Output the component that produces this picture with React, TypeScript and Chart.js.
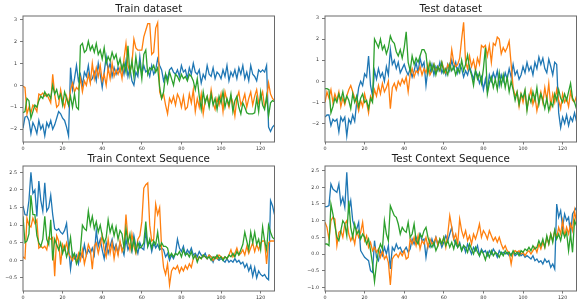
import React, { useEffect, useRef } from "react";
import { Chart, registerables } from "chart.js";
Chart.register(...registerables);

const FONT = "'DejaVu Sans', sans-serif";
const BLUE = "#1f77b4";
const ORANGE = "#ff7f0e";
const GREEN = "#2ca02c";

const XMAX = 127;
const xTicks = [0, 20, 40, 60, 80, 100, 120];
const yTicksDataset = [-2, -1, 0, 1, 2, 3];
const yTicksTrainCtx = [-0.5, 0, 0.5, 1, 1.5, 2, 2.5];
const yTicksTestCtx = [-1, -0.5, 0, 0.5, 1, 1.5, 2, 2.5];

const titles = ["Train dataset", "Test dataset", "Train Context Sequence", "Test Context Sequence"];

// Train dataset
const trainBlue = [
  -1.95, -1.45, -1.4, -1.6, -2.2, -1.7, -1.9, -2.2, -1.6, -2.0,
  -1.8, -2.3, -1.7, -1.9, -1.6, -2.0, -1.8, -1.5, -1.2, -1.3,
  -1.5, -1.6, -1.9, -2.3, 0.8, -0.2, 0.3, 0.9, 0.2, 0.5,
  0.0, 0.6, 0.4, 0.9, 0.2, 0.3, 0.6, 0.2, 1.0, 0.5,
  -0.1, 0.6, 1.3, 0.7, 1.0, 0.4, 0.8, 0.5, 0.8, 0.6,
  0.9, 0.5, 1.1, 0.4, 0.8, 0.2, 0.0, 0.6, 0.4, 1.3,
  0.5, 0.9, 0.6, 0.7, 0.4, 0.9, 0.5, 0.7, 1.2, 0.9,
  0.7, 0.2, 0.5, 0.3, 0.7, 0.8, 0.6, 0.5, 0.7, 0.4,
  0.9, 0.6, 0.7, 0.3, 0.8, 0.5, 1.0, 0.6, 0.5, 0.7,
  0.1, 0.5, 0.3, 0.9, 0.5, 0.4, 0.8, 0.3, 0.6, 0.5,
  0.3, 0.7, 0.4, 0.9, 0.2, 0.6, 0.4, 0.7, 0.3, 0.8,
  0.5, 0.9, 0.3, 0.6, 0.2, 0.9, 0.5, 0.4, 0.2, 0.7,
  0.6, 0.7, 0.6, 0.9, -1.9, -2.1, -1.9, -1.8,
];
const trainOrange = [
  -0.05, -0.1, -1.3, -1.0, -1.25, -0.9, -1.0, -1.2, -0.4, -0.45,
  -0.35, -0.5, -0.4, -0.6, -0.8, 0.5, -0.4, -1.0, -0.9, -0.2,
  -0.7, -1.0, -0.5, -0.9, -0.2, 0.1, -0.3, -0.1, -0.2, 0.3,
  -0.3, 0.2, 0.0, 0.5, 0.1, 1.0, 0.3, 0.8, 0.4, 0.9,
  0.2, 0.5, 0.0, 0.8, 0.3, 1.0, 0.4, 0.7, 0.5, 0.8,
  0.3, 1.2, 1.9, 0.9, 0.6, 1.0, 2.1, 1.7, 1.6, 1.6,
  1.6, 2.2, 2.5, 2.8, 2.8, 1.4, 1.5, 2.6, 2.85, -0.3,
  -0.6, -0.4, -0.9, -1.3, -0.6, -0.8, -0.5, -0.9, -0.4, -0.6,
  -1.0, -0.5, -1.1, -1.0, -0.4, -0.8, -0.2, -1.2, -0.6, -1.0,
  -0.4, -1.3, -0.7, -0.5, -0.9, -0.2, -0.8, -1.1, -0.6, -0.9,
  -0.4, -1.2, -0.3, -0.7, -1.0, -0.5, -0.8, -1.4, -0.6, -0.3,
  -0.9, -0.7, -0.4, -1.0, -0.6, -0.3, -0.9, -0.5, -0.2, -0.8,
  -0.6, -0.3, -1.0, -0.7, 0.1, -0.4, -0.6, -0.7,
];
const trainGreen = [
  -1.25, -1.2, -0.6, -0.7, -1.5, -1.2, -0.9, -1.0, -0.7, -0.5,
  -0.6, -0.3, -0.5, -0.4, -0.6, 0.0, -0.4, -0.2, -0.6, -0.4,
  -0.9, -0.3, -0.6, -0.9, -0.5, -1.0, -0.4, -1.0, -1.1, 1.8,
  1.9, 1.5, 1.6, 2.0, 1.6, 1.8, 1.5, 1.9, 1.4, 1.6,
  1.2, 1.7, 1.0, 1.3, 1.1, 1.5, 1.2, 1.4, 0.9, 1.2,
  0.7, 1.0, 0.6, 1.8, 0.5, 1.1, 0.4, 1.3, 0.6, 1.0,
  0.3, 1.4, 1.6, 0.5, 0.8, 0.7, 0.9, 0.6, 0.8, -0.1,
  -0.6, -0.3, 0.5, 0.1, 0.6, 0.3, 0.0, 0.5, 0.4, 0.2,
  0.5, 0.3, 0.4, 0.2, 0.5, 0.4, 0.2, -0.2, 0.3, -0.5,
  -1.1, -0.3, -0.8, -0.5, -1.0, -0.4, -0.9, -0.6, -1.1, -0.5,
  -0.8, -0.3, -1.0, -0.6, -0.9, -0.4, -1.2, -0.7, -0.5, -1.0,
  -1.3, -0.8, -1.0, -1.25, -1.3, -1.3, -1.3, -1.25, -0.6, -1.2,
  -0.3, -0.9, -1.1, -0.5, -1.4, -0.8, -0.7, -0.75,
];

// Test dataset
const testBlue = [
  -1.7, -1.6, -1.6, -2.1, -1.8, -1.9, -1.8, -2.4, -1.7, -1.9,
  -1.7, -2.6, -1.8, -2.0, -1.6, -1.9, -1.0, -0.3, 0.0, -0.2,
  0.35, 0.2, 1.2, -0.2, -0.7, 0.5, 0.1, 0.6, 0.2, 0.4,
  0.0, 0.7, 0.3, 1.5, 0.8, 1.0, 0.6, 0.9, 0.4, 0.6,
  0.8, 0.5, 0.3, 0.6, 0.2, 0.5, 0.9, 0.4, 1.1, 0.7,
  0.9, -0.2, 0.6, 0.4, 0.8, 0.3, 0.7, 0.5, 0.9, 0.4,
  0.6, 0.3, 0.8, 0.5, 1.0, 0.6, 0.9, 0.4, 0.8, 0.6,
  0.2, 0.5, 0.3, 0.7, 0.4, 0.1, 0.5, 0.3, -0.1, 0.2,
  -0.4, 0.1, -0.5, 0.3, 0.0, 0.4, 0.1, 0.5, -0.2, 0.3,
  0.0, 0.4, 0.1, 0.6, 0.2, 0.8, 0.3, 0.5, 0.1, 0.3,
  0.7, 0.4, 0.9, 0.5, 0.7, 0.3, 0.9, 0.6, 1.15, 0.8,
  1.1, 0.6, 0.4, 1.05, 0.7, 0.3, 0.9, 0.8, -1.5, -2.2,
  -1.7, -2.0, -1.6, -2.1, -1.7, -1.9, -1.5, -1.9,
];
const testOrange = [
  -1.0, -0.5, -0.8, -0.4, -1.0, -0.6, -0.9, -0.5, -1.2, -0.8,
  -1.1, -0.7, -0.4, -0.2, -0.5, -0.8, -1.0, -1.4, -0.9, -1.2,
  -0.6, -1.0, -1.5, -0.7, -0.9, -0.4, -0.7, -0.2, -0.6, -0.1,
  -0.5, -0.3, 0.0, -1.3, -0.3, -0.1, -0.4, 0.0, -0.2, 0.1,
  -0.1, 0.2, -0.5, 0.3, 0.6, 0.2, 0.5, 0.4, 0.7, 0.3,
  0.6, 0.4, 0.8, 0.3, 0.5, 0.8, 0.4, 0.7, 0.5, 0.9,
  0.6, 0.4, 0.8, 0.6, 1.5, 0.9, 0.7, 0.8, 1.1, 2.0,
  2.8, 0.9, 0.6, 1.2, 0.7, 1.0, 0.5, 1.1, 0.8, 1.7,
  1.6, 1.7, 1.2, 1.7, 0.9, 1.8, 1.7, 2.1, 2.0, 1.3,
  1.6, 1.4, 1.6, 1.9, 0.8, -0.3, -0.7, -0.5, -1.2, -0.6,
  -1.0, -0.5, -1.3, -0.8, -0.4, -1.1, -0.7, -1.4, -0.9, -0.5,
  -1.0, -0.3, -0.9, -0.1, -1.2, -0.6, -1.0, -0.4, -0.9, -1.3,
  -0.6, -1.0, -0.8, -1.2, -0.5, -0.9, -1.0, -0.7,
];
const testGreen = [
  -0.35, -0.35, -0.4, -1.5, -1.2, -0.8, -1.0, -0.6, -0.9, -0.5,
  -1.0, -0.7, -0.9, -1.3, -0.6, -1.0, -0.7, -1.2, -0.8, -0.6,
  -1.0, -0.9, -1.3, -0.8, -1.0, 2.0, 1.8, 1.6, 2.0, 1.5,
  1.7, 1.3, 1.6, 2.15, 1.9, 1.8, 1.4, 1.2, 1.5, 1.1,
  1.6, 2.35, 0.9, 0.5, 1.2, 0.8, 1.1, 0.9, 1.2, 1.5,
  1.5, 1.3, 0.4, 0.9, 0.5, 0.8, 0.3, 0.7, 0.5, 0.9,
  0.4, 0.6, 0.3, 0.8, 0.5, 0.7, 0.3, 0.6, 0.4, 1.0,
  0.5, 0.8, 1.25, 0.6, 0.3, -0.2, 0.5, 0.1, 0.4, -0.1,
  0.6, 1.6, -0.6, -0.1, 0.2, -0.3, 0.1, -0.4, 0.4, -0.2,
  0.3, -0.3, 0.2, -0.5, 0.0, -0.4, -0.9, -0.5, -1.1, -0.6,
  -0.8, -0.4, -1.4, -0.7, -1.0, -0.5, -0.9, -0.3, -1.1, -0.6,
  -0.9, -1.3, -0.8, -1.4, -1.0, -1.2, -0.6, -0.9, -0.4, -0.8,
  -1.0, -0.6, -0.9, -0.5, -0.1, -0.8, -1.0, -1.3,
];

// Train context sequence
const trainCtxBlue = [
  1.55, 1.3, 1.28, 1.7, 2.5, 1.9, 2.0, 1.25, 2.25, 1.7,
  1.4, 2.2, 1.4, 1.5, 1.85, 1.3, 0.9, 0.85, 0.9, 0.8,
  0.75, 0.85, 1.05, 0.4, -0.25, 0.2, 0.05, 0.15, -0.1, 0.2,
  0.1, 0.45, 0.15, 0.3, 0.2, 0.35, 0.15, 0.85, 0.4, 0.6,
  0.3, 0.05, 0.5, 0.2, 0.4, 0.6, 0.3, 0.45, 0.2, 0.5,
  0.35, 0.15, 0.6, 0.3, 0.45, 0.25, 0.7, 0.4, 0.2, 0.5,
  0.35, 0.3, 0.8, 0.4, 0.55, 0.25, 0.5, 0.35, 0.45, 0.3,
  0.35, 0.3, 0.1, 0.2, 0.0, 0.15, 0.05, 0.2, 0.6, 0.35,
  0.25, 0.4, 0.15, 0.3, 0.2, 0.35, 0.15, 0.2, 0.1, 0.25,
  0.15, 0.1, 0.2, 0.05, 0.15, 0.1, -0.05, 0.1, 0.05, 0.0,
  0.05, 0.0, -0.05, 0.05, -0.05, 0.0, -0.05, 0.05, -0.05, 0.0,
  -0.1, -0.05, -0.2, -0.1, -0.3, -0.15, -0.45, -0.2, -0.5, -0.3,
  -0.4, -0.45, -0.4, -0.5, -0.55, 1.7, 1.55, 1.3,
];
const trainCtxOrange = [
  0.1, 0.05, 1.2, 1.0, 0.95, 1.2, 1.05, 1.15, 0.35, 0.4,
  0.35, 0.4, 0.3, 0.65, 0.6, 0.65, -0.45, 0.7, 0.55, -0.12,
  0.45, 0.3, 0.5, 0.2, 0.1, 0.0, 0.15, -0.05, 0.2, 0.0,
  0.3, -0.1, 0.15, 0.45, 0.3, -0.25, 0.4, 0.5, 0.2, 0.45,
  0.7, 0.3, 0.1, 0.6, 0.2, 0.5, 0.05, 0.4, 0.15, 0.55,
  0.25, 0.4, 1.3, 0.6, 0.3, 0.75, 0.4, 0.2, 0.6, 0.7,
  1.1, 2.05, 2.15, 2.2, 1.0, 0.55, 0.6, 1.6, 1.3, 1.5,
  0.35, -0.2, -0.4, -0.1, -0.7, -0.3, -0.2, -0.25, -0.15, -0.35,
  -0.2, -0.3, -0.15, -0.25, -0.1, -0.2, 0.05, 0.15, 0.0, 0.1,
  0.05, 0.15, 0.1, 0.05, 0.15, 0.1, 0.0, 0.1, 0.05, 0.15,
  0.1, 0.05, 0.1, 0.05, 0.15, 0.3, 0.1, 0.2, 0.35, 0.15,
  0.2, 0.3, 0.15, 0.4, 0.2, 0.35, 0.5, 0.25, 0.45, 0.3,
  0.5, 0.55, 0.55, -0.1, 0.5, 0.55, 0.55, 0.55,
];
const trainCtxGreen = [
  1.25, 0.5, 0.55, 0.75, 1.85, 1.3, 1.3, 0.7, 0.5, 0.4,
  0.6, 1.25, 0.6, 0.45, 1.15, 0.0, 0.6, 0.45, 0.3, 0.5,
  0.2, 0.4, 0.1, 0.3, 0.65, 0.1, 0.2, -0.1, 0.05, 0.3,
  1.0, 0.9, 0.85, 1.4, 1.0, 1.25, 0.9, 1.1, 0.8, 1.0,
  0.7, 0.5, 0.65, 1.15, 0.8, 1.0, 0.7, 0.95, 0.6, 0.85,
  0.75, 0.35, 0.9, 0.5, 0.75, 0.3, 0.6, 0.25, 0.5, 0.35,
  0.4, 0.5, 1.1, 0.4, 0.6, 0.35, 0.55, 0.45, 0.8, 0.35,
  0.5, 0.4, 0.4, 0.35, 0.1, 0.2, 0.1, 0.2, 0.15, 0.25,
  0.1, 0.3, 0.15, 0.2, 0.1, 0.25, 0.05, 0.15, -0.05, 0.1,
  0.05, 0.15, 0.1, 0.05, 0.1, 0.0, 0.1, 0.05, 0.15, 0.05,
  0.1, 0.0, 0.1, 0.05, 0.15, 0.1, 0.2, 0.1, 0.25, 0.15,
  0.3, 0.45, 0.8, 0.55, 0.3, 0.8, 0.5, 0.8, 0.45, 0.6,
  0.3, 0.95, 0.55, 0.3, 1.0, 0.8, 0.65, 0.6,
];

// Test context sequence
const testCtxBlue = [
  1.42, 1.42, 1.45, 2.1, 1.95, 1.9, 1.85, 2.1, 1.5, 1.7,
  1.4, 2.45, 1.3, 1.6, 1.0, 0.8, 0.75, 0.95, 0.1, 0.0,
  -0.1, -0.15, -0.2, -0.5, -0.55, 0.4, -0.1, -0.2, 0.1, -0.05,
  0.2, 0.0, 0.25, -0.45, 0.2, 0.1, 0.3, 0.15, 0.2, 0.05,
  0.1, 0.2, 0.05, 0.15, 0.45, 0.3, 0.5, 0.35, 0.6, 0.4,
  0.45, -0.1, 0.3, 0.2, 0.45, 0.25, 0.5, 0.3, 0.4, 0.2,
  0.35, 0.55, 0.4, 0.6, 0.8, 0.45, 0.3, 0.2, 0.35, 0.1,
  0.25, 0.05, 0.3, 0.15, 0.0, 0.2, 0.1, 0.25, -0.05, 0.15,
  0.05, 0.1, -0.05, 0.1, 0.0, 0.15, 0.05, -0.1, 0.1, 0.0,
  0.05, 0.0, 0.05, -0.05, 0.0, 0.05, -0.05, 0.0, 0.05, -0.05,
  0.0, -0.1, -0.05, -0.1, -0.15, -0.05, -0.2, -0.15, -0.25, -0.2,
  -0.3, -0.15, -0.25, -0.2, -0.4, -0.3, -0.45, 1.5, 1.1, 1.3,
  0.8, 1.2, 1.0, 1.1, 0.6, 1.2, 1.3, 1.4,
];
const testCtxOrange = [
  0.95, 0.8, 0.45, 1.0, 1.1, 1.05, 0.25, 0.65, 0.7, 0.5,
  0.9, 1.0, 0.6, 0.4, 0.55, 0.3, 0.7, 0.5, 0.65, 0.95,
  0.4, 0.55, 0.2, 0.35, 0.1, 0.2, 0.05, 0.15, -0.1, 0.1,
  -0.15, -0.05, -0.25, -0.93, -0.15, -0.05, 0.0, -0.1, 0.05, -0.05,
  0.1, -0.15, -0.1, 0.45, 0.3, 0.5, 0.25, 0.55, 0.15, 0.4,
  0.3, 0.5, 0.2, 0.45, 0.3, 0.35, 0.5, 0.25, 0.45, 0.3,
  0.5, 0.2, 0.6, 1.15, 0.8, 0.45, 0.6, 0.3, 1.05, 0.7,
  0.5, 0.7, 0.4, 0.55, 0.3, 0.6, 0.45, 0.65, 0.9, 0.5,
  0.7, 0.6, 0.45, 0.7, 0.55, 0.4, 0.5, 0.35, 0.5, 0.3,
  0.15, 0.25, 0.1, 0.05, -0.3, 0.05, 0.1, 0.05, 0.1, 0.0,
  0.05, -0.05, 0.05, 0.1, 0.0, 0.1, 0.2, 0.05, 0.3, 0.15,
  0.35, 0.2, 0.5, 0.3, 0.6, 0.4, 0.7, 0.5, 0.8, 0.6,
  1.0, 0.55, 0.8, 0.6, 0.9, 0.7, 1.3, 0.95,
];
const testCtxGreen = [
  0.3, 0.3, 0.25, 1.5, 1.2, 0.85, 0.5, 0.4, 0.7, 1.0,
  0.9, 0.55, 1.6, 0.8, 0.5, 0.9, 0.6, 0.7, 0.45, 0.6,
  0.5, 0.3, 0.45, 0.1, -0.3, -0.83, -0.3, 0.1, 0.3, 0.15,
  1.0, 0.6, 0.4, 1.45, 1.3, 1.15, 1.1, 0.9, 0.6, 0.8,
  0.7, 0.65, 0.95, 0.5, 0.6, 0.9, 0.4, 0.3, 0.6, 0.5,
  0.7, 0.8, 0.5, 0.3, 0.2, 0.35, 0.1, 0.25, 0.45, 0.3,
  0.5, 0.25, 0.4, 0.2, 0.35, 0.15, 0.4, 0.2, 0.3, 0.1,
  0.25, 0.2, 0.05, 0.3, 0.15, 0.0, 0.2, 0.05, -0.05, 0.1,
  0.0, -0.18, 0.05, -0.1, 0.1, -0.05, 0.05, 0.0, -0.1, 0.05,
  -0.05, 0.1, 0.0, 0.05, -0.05, 0.1, 0.0, 0.05, -0.05, 0.1,
  0.05, 0.15, 0.1, 0.2, 0.1, 0.25, 0.15, 0.2, 0.4, 0.25,
  0.45, 0.2, 0.55, 0.3, 0.6, 0.35, 0.72, 0.45, 0.6, 0.4,
  0.7, 0.5, 0.65, 0.1, 0.6, 0.05, 1.0, 0.85,
];

type Panel = {
  title: string;
  series: number[][];
  yMin: number;
  yMax: number;
  yTicks: number[];
  decimals: number;
  left: number;
  top: number;
  width: number;
  height: number;
  pad: { top: number; right: number; bottom: number; left: number };
};

const TITLE_SIZE = 10.3;
const TITLE_H = TITLE_SIZE * 1.2;

const panels: Panel[] = [
  {
    title: titles[0], series: [trainBlue, trainOrange, trainGreen],
    yMin: -2.58, yMax: 3.15, yTicks: yTicksDataset, decimals: 0,
    left: 0, top: 0, width: 291, height: 153,
    pad: { top: 16 - TITLE_H, right: 16.5, bottom: 0, left: 0 },
  },
  {
    title: titles[1], series: [testBlue, testOrange, testGreen],
    yMin: -2.88, yMax: 3.095, yTicks: yTicksDataset, decimals: 0,
    left: 302, top: 0, width: 280, height: 153,
    pad: { top: 16 - TITLE_H, right: 5.5, bottom: 0, left: 0 },
  },
  {
    title: titles[2], series: [trainCtxBlue, trainCtxOrange, trainCtxGreen],
    yMin: -0.87, yMax: 2.68, yTicks: yTicksTrainCtx, decimals: 1,
    left: 0, top: 153, width: 291, height: 154,
    pad: { top: 13 - TITLE_H, right: 16.5, bottom: 5, left: 0 },
  },
  {
    title: titles[3], series: [testCtxBlue, testCtxOrange, testCtxGreen],
    yMin: -1.11, yMax: 2.64, yTicks: yTicksTestCtx, decimals: 1,
    left: 302, top: 153, width: 280, height: 154,
    pad: { top: 13 - TITLE_H, right: 5.5, bottom: 5, left: 0 },
  },
];

function fmt(v: number, d: number): string {
  const s = d ? Math.abs(v).toFixed(d) : String(Math.abs(v));
  return v < -1e-9 ? "\u2212" + s : s;
}

const framePlugin = {
  id: "frame",
  afterDatasetsDraw(chart: any) {
    const { ctx, chartArea: a } = chart;
    ctx.save();
    ctx.strokeStyle = "#6a6a6a";
    ctx.lineWidth = 1;
    ctx.strokeRect(a.left, a.top, a.right - a.left, a.bottom - a.top);
    ctx.restore();
  },
};

const COLORS = [BLUE, ORANGE, GREEN];

function PanelChart({ p }: { p: Panel }) {
  const ref = useRef<HTMLCanvasElement>(null);
  useEffect(() => {
    const mk = (vals: number[]) => vals.map((y, x) => ({ x, y }));
    const chart = new Chart(ref.current as HTMLCanvasElement, {
      type: "line",
      data: {
        datasets: p.series.map((s, i) => ({
          data: mk(s),
          borderColor: COLORS[i],
          backgroundColor: COLORS[i],
          borderWidth: 1.3,
          pointRadius: 0,
          tension: 0,
          fill: false,
          order: 3 - i,
        })),
      },
      options: {
        responsive: false,
        animation: false,
        events: [],
        layout: { padding: p.pad },
        plugins: {
          legend: { display: false },
          tooltip: { enabled: false },
          title: {
            display: true,
            text: p.title,
            fullSize: false,
            padding: 0,
            color: "#1a1a1a",
            font: { family: FONT, size: TITLE_SIZE, weight: "normal" as any, lineHeight: 1.2 },
          },
        },
        scales: {
          x: {
            type: "linear",
            min: 0,
            max: XMAX,
            afterBuildTicks: (s: any) => {
              s.ticks = xTicks.map((v) => ({ value: v }));
            },
            afterFit: (s: any) => {
              s.height = 11;
            },
            ticks: {
              font: { family: FONT, size: 4.8 },
              color: "#333",
              padding: 1,
              maxRotation: 0,
              autoSkip: false,
              callback: (v: any) => fmt(Number(v), 0),
            },
            grid: { display: true, drawOnChartArea: false, drawTicks: true, tickLength: 2.5, tickColor: "#555", tickWidth: 0.8 },
            border: { display: false },
          },
          y: {
            type: "linear",
            min: p.yMin,
            max: p.yMax,
            afterBuildTicks: (s: any) => {
              s.ticks = p.yTicks.map((v) => ({ value: v }));
            },
            afterFit: (s: any) => {
              s.width = 23;
            },
            ticks: {
              font: { family: FONT, size: 4.8 },
              color: "#333",
              padding: 3,
              autoSkip: false,
              callback: (v: any) => fmt(Number(v), p.decimals),
            },
            grid: { display: true, drawOnChartArea: false, drawTicks: true, tickLength: 3, tickColor: "#555", tickWidth: 0.8 },
            border: { display: false },
          },
        },
      } as any,
      plugins: [framePlugin],
    });
    return () => chart.destroy();
  }, [p]);
  return (
    <canvas
      ref={ref}
      width={p.width}
      height={p.height}
      style={{ position: "absolute", left: p.left, top: p.top, width: p.width, height: p.height }}
    />
  );
}

export default function App() {
  return (
    <div style={{ position: "absolute", left: 0, top: 0, width: 582, height: 307, background: "#fff", overflow: "hidden" }}>
      {panels.map((p, i) => (
        <PanelChart key={i} p={p} />
      ))}
    </div>
  );
}
